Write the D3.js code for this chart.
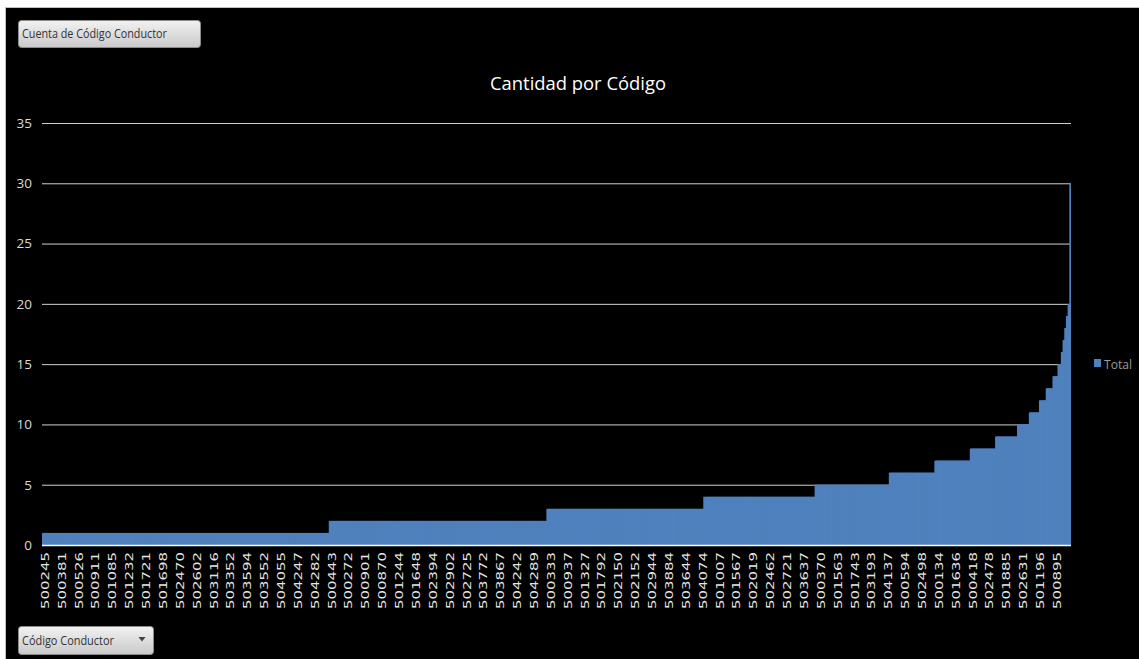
<!DOCTYPE html>
<html>
<head>
<meta charset="utf-8">
<script src="https://cdn.jsdelivr.net/npm/d3@7"></script>
<style>
  html, body { margin: 0; padding: 0; background: #ffffff; }
  svg { display: block; }
</style>
</head>
<body>
<svg id="chart" width="1139" height="659"></svg>
<script>
// Count of records per driver code, sorted ascending by count.
// Each entry: a count value and how many codes share that count.
const countValue    = [1,   2,   3,  4,  5,  6,  7,  8,  9, 10, 11, 12, 13, 14, 15, 16, 17, 18, 19, 20, 30];
const codesPerCount = [170, 129, 93, 66, 44, 27, 21, 15, 13, 7,  6,  4,  4,  3,  2,  1,  1,  1,  1,  1,  1];

// Codes printed on the category axis (one every tenth code).
const labelledCodes = [
  "500245","500381","500526","500911","501085","501232","501721","501698","502470","502602",
  "503116","503352","503594","503552","504055","504247","504282","500443","500272","500901",
  "500870","501244","501648","502394","502902","502725","503772","503867","504242","504289",
  "500333","500937","501327","501792","502150","502152","502944","503884","503644","504074",
  "501007","501567","502019","502462","502721","503637","500370","501563","501743","503193",
  "504137","500594","502498","500134","501636","500418","502478","501885","502631","501196",
  "500895"
];
const labelEvery = 10;
const yTicks = [0, 5, 10, 15, 20, 25, 30, 35];

const chartTitle = "Cantidad por Código";
const seriesName = "Total";
const valueField = "Cuenta de Código Conductor";
const axisField  = "Código Conductor";

// One record per code, in axis order.
const bars = [];
countValue.forEach((v, gi) => {
  for (let k = 0; k < codesPerCount[gi]; k++) bars.push({ index: bars.length, value: v });
});

const svg = d3.select("#chart");
const W = 1139, H = 659;
const plot = { left: 42, right: 1071, top: 123, bottom: 545 };

// Sheet frame: white strip with the black chart area inset.
svg.append("rect").attr("x", 0).attr("y", 0).attr("width", W).attr("height", H).attr("fill", "#ffffff");
svg.append("rect").attr("x", 5.5).attr("y", 7.5).attr("width", W - 5).attr("height", H - 7)
  .attr("fill", "#000000").attr("stroke", "#bfbfbf").attr("stroke-width", 1);

const x = d3.scaleBand()
  .domain(bars.map(d => d.index))
  .range([plot.left, plot.right])
  .padding(0);

const y = d3.scaleLinear()
  .domain([0, 35])
  .range([plot.bottom, plot.top]);

// Horizontal gridlines and value labels.
const yAxis = svg.append("g")
  .attr("transform", `translate(${plot.left},0)`)
  .call(d3.axisLeft(y).tickValues(yTicks).tickSize(-(plot.right - plot.left)).tickPadding(10).tickFormat(d3.format("d")));
yAxis.select(".domain").remove();
yAxis.selectAll(".tick line")
  .attr("stroke", d => d === 0 ? "none" : "#d0d0d0")
  .attr("stroke-width", 1);
yAxis.selectAll(".tick text")
  .attr("fill", "#d9d9d9")
  .attr("font-family", "'Open Sans', sans-serif")
  .attr("font-size", 13.5);

// Bars: each code is one column; columns touch (no gap). Each column
// overlaps the next slightly so fractional edges leave no seams; the
// next column (equal or taller) is painted over the overlap.
const barsG = svg.append("g");
barsG.selectAll("rect")
  .data(bars)
  .join("rect")
  .attr("x", d => x(d.index))
  .attr("width", d => d.index === bars.length - 1 ? x.bandwidth() : x.bandwidth() + 1.5)
  .attr("y", d => y(d.value))
  .attr("height", d => y(0) - y(d.value))
  .attr("fill", "#4f81bd");

// Baseline.
svg.append("line")
  .attr("x1", plot.left).attr("x2", plot.right)
  .attr("y1", y(0) + 0.5).attr("y2", y(0) + 0.5)
  .attr("stroke", "#ffffff").attr("stroke-width", 1.5);

// Category axis: every tenth code, rotated.
const xAxis = svg.append("g")
  .attr("transform", `translate(0,${plot.bottom})`)
  .call(d3.axisBottom(x)
    .tickValues(bars.filter(d => d.index % labelEvery === 0).map(d => d.index))
    .tickSize(0)
    .tickFormat(i => labelledCodes[i / labelEvery]));
xAxis.select(".domain").remove();
xAxis.selectAll(".tick text")
  .attr("fill", "#e6e6e6")
  .attr("font-family", "'DejaVu Sans', sans-serif")
  .attr("font-size", 11)
  .attr("text-anchor", "end")
  .attr("transform", "rotate(-90)")
  .attr("x", -7)
  .attr("y", 2)
  .attr("dy", "0.36em")
  .attr("textLength", 57)
  .attr("lengthAdjust", "spacingAndGlyphs");

// Title.
svg.append("text")
  .attr("x", 578).attr("y", 90)
  .attr("text-anchor", "middle")
  .attr("fill", "#ffffff")
  .attr("font-family", "'Open Sans', sans-serif")
  .attr("font-size", 19)
  .attr("textLength", 176)
  .attr("lengthAdjust", "spacingAndGlyphs")
  .text(chartTitle);

// Legend.
svg.append("rect").attr("x", 1094).attr("y", 359).attr("width", 7).attr("height", 8).attr("fill", "#4f81bd");
svg.append("text")
  .attr("x", 1104).attr("y", 368.5)
  .attr("fill", "#9a9a9a")
  .attr("font-family", "'Open Sans', sans-serif")
  .attr("font-size", 13)
  .attr("textLength", 28)
  .attr("lengthAdjust", "spacingAndGlyphs")
  .text(seriesName);

// Pivot field buttons.
const defs = svg.append("defs");
const grad = defs.append("linearGradient").attr("id", "btnFill").attr("x1", 0).attr("y1", 0).attr("x2", 0).attr("y2", 1);
grad.append("stop").attr("offset", "0%").attr("stop-color", "#f2f2f2");
grad.append("stop").attr("offset", "100%").attr("stop-color", "#c9c9c9");

function fieldButton(bx, by, bw, bh, label, labelWidth, withArrow) {
  const g = svg.append("g");
  g.append("rect")
    .attr("x", bx + 0.5).attr("y", by + 0.5).attr("width", bw).attr("height", bh)
    .attr("rx", 3).attr("ry", 3)
    .attr("fill", "url(#btnFill)").attr("stroke", "#8c8c8c").attr("stroke-width", 1);
  g.append("text")
    .attr("x", bx + 4).attr("y", by + bh / 2 + 4.5)
    .attr("fill", "#333333")
    .attr("font-family", "'Open Sans', sans-serif")
    .attr("font-size", 12)
    .attr("textLength", labelWidth)
    .attr("lengthAdjust", "spacingAndGlyphs")
    .text(label);
  if (withArrow) {
    const ax = bx + bw - 11, ay = by + bh / 2 - 1;
    g.append("path")
      .attr("d", `M${ax - 3.5},${ay - 2} L${ax + 3.5},${ay - 2} L${ax},${ay + 2.5} Z`)
      .attr("fill", "#444444");
  }
}
fieldButton(18, 20, 182, 27, valueField, 145, false);
fieldButton(18, 626, 135, 28, axisField, 92, true);
</script>
</body>
</html>
